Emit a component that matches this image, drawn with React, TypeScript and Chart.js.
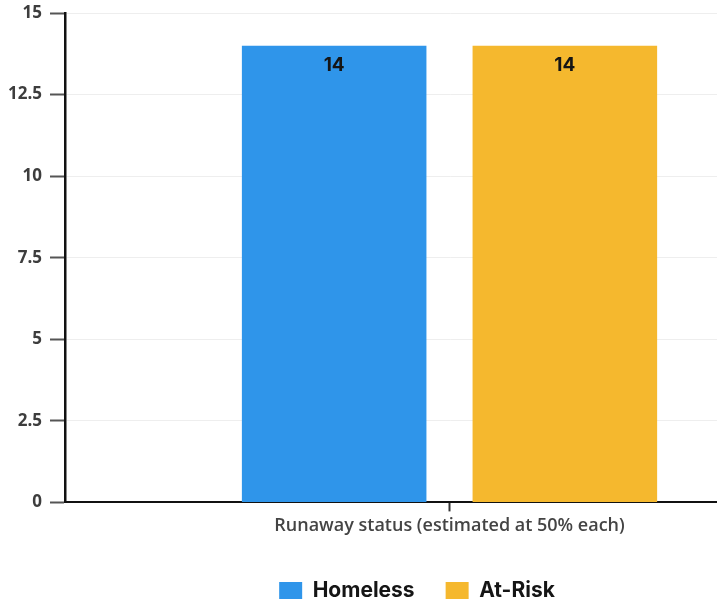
import React, { useEffect, useRef } from "react";
import { Chart, registerables } from "chart.js";

Chart.register(...registerables);

const categories = ["Runaway status (estimated at 50% each)"];
const seriesNames = ["Homeless", "At-Risk"];
const homelessValues = [14];
const atRiskValues = [14];
const seriesColors = ["#2F95EA", "#F5B82E"];
const yTicks = [0, 2.5, 5, 7.5, 10, 12.5, 15];

const valueLabelPlugin = {
  id: "valueLabels",
  afterDatasetsDraw(chart: any) {
    const ctx = chart.ctx;
    ctx.save();
    ctx.font = "bold 19px Inter, 'Open Sans', sans-serif";
    ctx.fillStyle = "#151515";
    ctx.textAlign = "center";
    ctx.textBaseline = "middle";
    chart.data.datasets.forEach((ds: any, i: number) => {
      const meta = chart.getDatasetMeta(i);
      meta.data.forEach((bar: any, j: number) => {
        ctx.fillText(String(ds.data[j]), bar.x, bar.y + 20);
      });
    });
    ctx.restore();
  },
};

export default function App() {
  const ref = useRef<HTMLCanvasElement>(null);
  useEffect(() => {
    if (!ref.current) return;
    const chart = new Chart(ref.current, {
      type: "bar",
      data: {
        labels: categories,
        datasets: [
          {
            label: seriesNames[0],
            data: homelessValues,
            backgroundColor: seriesColors[0],
            categoryPercentage: 0.6,
            barPercentage: 0.8,
          },
          {
            label: seriesNames[1],
            data: atRiskValues,
            backgroundColor: seriesColors[1],
            categoryPercentage: 0.6,
            barPercentage: 0.8,
          },
        ],
      },
      options: {
        animation: false,
        responsive: true,
        maintainAspectRatio: false,
        layout: { padding: { top: 13, right: 6, left: 0, bottom: -8 } },
        plugins: {
          legend: {
            position: "bottom",
            labels: {
              boxWidth: 23,
              boxHeight: 17,
              padding: 31,
              color: "#151515",
              font: { family: "Inter, 'Open Sans', sans-serif", size: 21, weight: "bold" },
            },
          },
          tooltip: { enabled: false },
        },
        scales: {
          x: {
            afterFit: (scale: any) => {
              scale.height += 8;
            },
            grid: {
              offset: false,
              drawOnChartArea: false,
              drawTicks: true,
              tickLength: 9,
              tickColor: "#333",
              tickWidth: 2,
            },
            border: { color: "#111", width: 2 },
            ticks: {
              color: "#444",
              padding: 4,
              font: { family: "'Open Sans', sans-serif", size: 18, weight: "600" },
            },
          },
          y: {
            min: 0,
            max: 15,
            afterBuildTicks: (axis: any) => {
              axis.ticks = yTicks.map((v) => ({ value: v }));
            },
            afterFit: (scale: any) => {
              scale.paddingTop = 0;
            },
            grid: {
              color: "#eeeeee",
              tickColor: "#555",
              tickLength: 15,
              tickWidth: 2,
            },
            border: { color: "#111", width: 2.5 },
            ticks: {
              color: "#3d3d3d",
              padding: 8,
              font: { family: "'Open Sans', sans-serif", size: 17, weight: "bold" },
            },
          },
        },
      },
      plugins: [valueLabelPlugin],
    });
    return () => chart.destroy();
  }, []);

  return (
    <div
      style={{
        position: "absolute",
        left: 0,
        top: 0,
        width: 717,
        height: 603,
        overflow: "hidden",
        background: "#fff",
      }}
    >
      <div style={{ position: "relative", width: 840, height: 603 }}>
        <canvas ref={ref} />
      </div>
    </div>
  );
}
